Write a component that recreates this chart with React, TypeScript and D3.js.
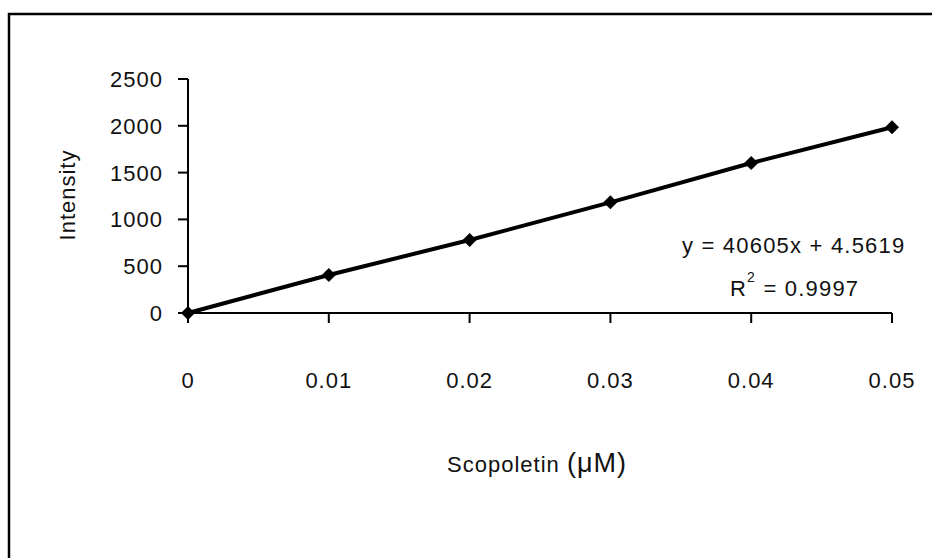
import React, { useEffect, useRef } from "react";
import * as d3 from "d3";

// values
const concentrations = [0, 0.01, 0.02, 0.03, 0.04, 0.05];
const intensities = [0, 406, 780, 1182, 1603, 1985];
const xTicks = [0, 0.01, 0.02, 0.03, 0.04, 0.05];
const yTicks = [0, 500, 1000, 1500, 2000, 2500];
const slope = 40605;
const intercept = 4.5619;
const rSquared = "0.9997";

const FONT = "'Liberation Sans', Arial, sans-serif";

const App = () => {
  const svgRef = useRef<SVGSVGElement>(null);

  useEffect(() => {
    const width = 932;
    const height = 558;
    const svg = d3.select(svgRef.current);
    svg.selectAll("*").remove();
    svg.attr("width", width).attr("height", height);

    svg.append("rect").attr("width", width).attr("height", height).attr("fill", "#fff");

    // outer frame (only top and left sides visible)
    svg
      .append("path")
      .attr("d", `M9,${height} V14 H${width}`)
      .attr("fill", "none")
      .attr("stroke", "#000")
      .attr("stroke-width", 2.5);

    const x = d3.scaleLinear().domain([0, 0.05]).range([188, 892]);
    const y = d3.scaleLinear().domain([0, 2500]).range([313, 79]);

    // y axis
    const yAxis = svg.append("g").attr("transform", `translate(${x(0)},0)`);
    yAxis
      .append("line")
      .attr("y1", y(0))
      .attr("y2", y(2500))
      .attr("stroke", "#000")
      .attr("stroke-width", 2);
    yTicks.forEach((t) => {
      yAxis
        .append("line")
        .attr("x1", -10)
        .attr("x2", 0)
        .attr("y1", y(t))
        .attr("y2", y(t))
        .attr("stroke", "#000")
        .attr("stroke-width", 2);
      yAxis
        .append("text")
        .attr("x", -25)
        .attr("y", y(t) + 8)
        .attr("text-anchor", "end")
        .attr("font-family", FONT)
        .attr("font-size", 22)
        .attr("letter-spacing", 1)
        .attr("fill", "#111")
        .text(t);
    });

    // x axis
    const xAxis = svg.append("g").attr("transform", `translate(0,${y(0)})`);
    xAxis
      .append("line")
      .attr("x1", x(0))
      .attr("x2", x(0.05))
      .attr("stroke", "#000")
      .attr("stroke-width", 2);
    xTicks.forEach((t) => {
      xAxis
        .append("line")
        .attr("x1", x(t))
        .attr("x2", x(t))
        .attr("y1", 0)
        .attr("y2", 10)
        .attr("stroke", "#000")
        .attr("stroke-width", 2);
      xAxis
        .append("text")
        .attr("x", x(t))
        .attr("y", 75)
        .attr("text-anchor", "middle")
        .attr("font-family", FONT)
        .attr("font-size", 22)
        .attr("letter-spacing", 1)
        .attr("fill", "#111")
        .text(t === 0 ? "0" : d3.format(".2f")(t));
    });

    // axis titles
    svg
      .append("text")
      .attr("transform", `translate(75,195) rotate(-90)`)
      .attr("text-anchor", "middle")
      .attr("font-family", FONT)
      .attr("font-size", 22)
      .attr("letter-spacing", 1)
      .attr("fill", "#111")
      .text("Intensity");

    const xt = svg
      .append("text")
      .attr("x", 537)
      .attr("y", 472)
      .attr("text-anchor", "middle")
      .attr("font-family", FONT)
      .attr("font-size", 22)
      .attr("letter-spacing", 1)
      .attr("fill", "#111");
    xt.append("tspan").text("Scopoletin ");
    xt.append("tspan").attr("font-size", 27).text("(μM)");

    // data series drawn as one thick line
    const pts = concentrations.map((c, i) => ({ c, v: intensities[i] }));
    svg
      .append("path")
      .datum(pts)
      .attr("fill", "none")
      .attr("stroke", "#000")
      .attr("stroke-width", 4)
      .attr(
        "d",
        d3
          .line<{ c: number; v: number }>()
          .x((d) => x(d.c))
          .y((d) => y(d.v))
      );

    svg
      .selectAll(".pt")
      .data(pts)
      .enter()
      .append("path")
      .attr("class", "pt")
      .attr("transform", (d) => `translate(${x(d.c)},${y(d.v)})`)
      .attr("d", "M0,-7 L7,0 L0,7 L-7,0 Z")
      .attr("fill", "#000");

    // regression labels
    svg
      .append("text")
      .attr("x", 682)
      .attr("y", 253)
      .attr("font-family", FONT)
      .attr("font-size", 22)
      .attr("letter-spacing", 1.2)
      .attr("fill", "#111")
      .text(`y = ${slope}x + ${intercept}`);

    const r2 = svg
      .append("text")
      .attr("x", 730)
      .attr("y", 296)
      .attr("font-family", FONT)
      .attr("font-size", 22)
      .attr("letter-spacing", 1.2)
      .attr("fill", "#111");
    r2.append("tspan").text("R");
    r2.append("tspan").attr("font-size", 14).attr("dy", -14).text("2");
    r2.append("tspan").attr("dy", 14).text(` = ${rSquared}`);
  }, []);

  return (
    <div style={{ position: "absolute", left: 0, top: 0 }}>
      <svg ref={svgRef} style={{ display: "block" }}></svg>
    </div>
  );
};

export default App;
